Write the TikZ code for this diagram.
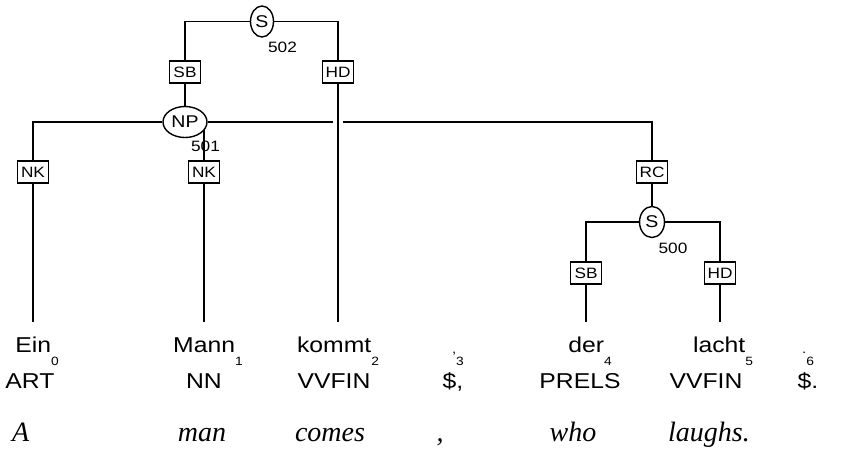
\documentclass[tikz,border=0pt]{standalone}
\usepackage{fontspec}
\setmainfont{Liberation Serif}
\newfontfamily\labfont[FakeStretch=1.15]{Liberation Sans}
\usetikzlibrary{shapes.geometric}
\pgfdeclarelayer{bg}
\pgfsetlayers{bg,main}
\newcommand{\tokidx}[1]{\raisebox{-13pt}{\fontsize{12pt}{12pt}\selectfont #1}}
\newcommand{\smallpunct}[1]{\raisebox{-1pt}{\fontsize{13pt}{13pt}\selectfont #1}}
\begin{document}
\begin{tikzpicture}[x=1pt,y=-1pt,
  edge/.style={draw=black, line width=1.8pt},
  lab/.style={draw=black, line width=1.8pt, fill=white, rectangle, inner sep=0pt,
    minimum width=31pt, minimum height=22pt, font=\labfont\fontsize{15pt}{15pt}\selectfont},
  cat/.style={draw=black, line width=1.4pt, fill=white, ellipse, inner sep=0pt,
    minimum height=31pt, font=\labfont\fontsize{17pt}{17pt}\selectfont},
  nid/.style={inner sep=0pt, font=\labfont\fontsize{15pt}{15pt}\selectfont},
  word/.style={anchor=base, inner sep=0pt, text height=30pt,
    font=\labfont\fontsize{21.5pt}{21.5pt}\selectfont},
  tag/.style={anchor=base, inner sep=0pt, font=\labfont\fontsize{21.5pt}{21.5pt}\selectfont},
  gloss/.style={anchor=base, inner sep=0pt, font=\itshape\fontsize{28pt}{28pt}\selectfont}]
\useasboundingbox (0,0) rectangle (848,448);

% category nodes
\node[cat, minimum width=23pt] (s502) at (262,21.5) {S};
\node[cat, minimum width=44pt] (np501) at (185,122) {NP};
\node[cat, minimum width=25pt] (s500) at (652,222) {S};

% node ids
\node[nid] (id502) at (282.5,47.5) {502};
\node[nid] (id501) at (205.5,146.5) {501};
\node[nid] (id500) at (673,248) {500};

% edge labels
\node[lab] (sb1) at (185,72) {SB};
\node[lab] (hd1) at (338,72) {HD};
\node[lab] (nk1) at (33,172) {NK};
\node[lab] (nk2) at (204,172) {NK};
\node[lab] (rc) at (652,172) {RC};
\node[lab] (sb2) at (586,273) {SB};
\node[lab] (hd2) at (720,273) {HD};

% words
\node[word] (w0) at (37,352) {Ein\tokidx{0}};
\node[word] (w1) at (208,352) {Mann\tokidx{1}};
\node[word] (w2) at (338,352) {kommt\tokidx{2}};
\node[word] (w3) at (458,352) {\smallpunct{,}\tokidx{3}};
\node[word] (w4) at (590,352) {der\tokidx{4}};
\node[word] (w5) at (723,352) {lacht\tokidx{5}};
\node[word] (w6) at (808,352) {\smallpunct{.}\tokidx{6}};

% tags
\node[tag] (p0) at (30,388) {ART};
\node[tag] (p1) at (204,388) {NN};
\node[tag] (p2) at (334,388) {VVFIN};
\node[tag] (p3) at (453,388) {\$,};
\node[tag] (p4) at (580,388) {PRELS};
\node[tag] (p5) at (706,388) {VVFIN};
\node[tag] (p6) at (808,388) {\$.};

% glosses
\node[gloss, anchor=base west] (g0) at (12,441) {A};
\node[gloss] (g1) at (202,441) {man};
\node[gloss] (g2) at (330,441) {comes};
\node[gloss] (g3) at (440,441) {,};
\node[gloss] (g4) at (573,441) {who};
\node[gloss] (g5) at (709,441) {laughs.};

\coordinate (gapL) at (333,122);
\coordinate (gapR) at (343,122);

\begin{pgfonlayer}{bg}
\draw[edge] (s502) -| (sb1);
\draw[edge] (s502) -| (hd1);
\draw[edge] (sb1) -- (np501);
\draw[edge] (hd1) -- (hd1 |- w2.north);
\draw[edge] (np501) -| (nk1);
\draw[edge] (nk2) -- (nk2 |- np501.center);
\draw[edge] (np501) -- (gapL);
\draw[edge] (gapR) -| (rc);
\draw[edge] (nk1) -- (nk1 |- w0.north);
\draw[edge] (nk2) -- (nk2 |- w1.north);
\draw[edge] (rc) -- (s500);
\draw[edge] (s500) -| (sb2);
\draw[edge] (s500) -| (hd2);
\draw[edge] (sb2) -- (sb2 |- w4.north);
\draw[edge] (hd2) -- (hd2 |- w5.north);
\end{pgfonlayer}
\end{tikzpicture}
\end{document}
